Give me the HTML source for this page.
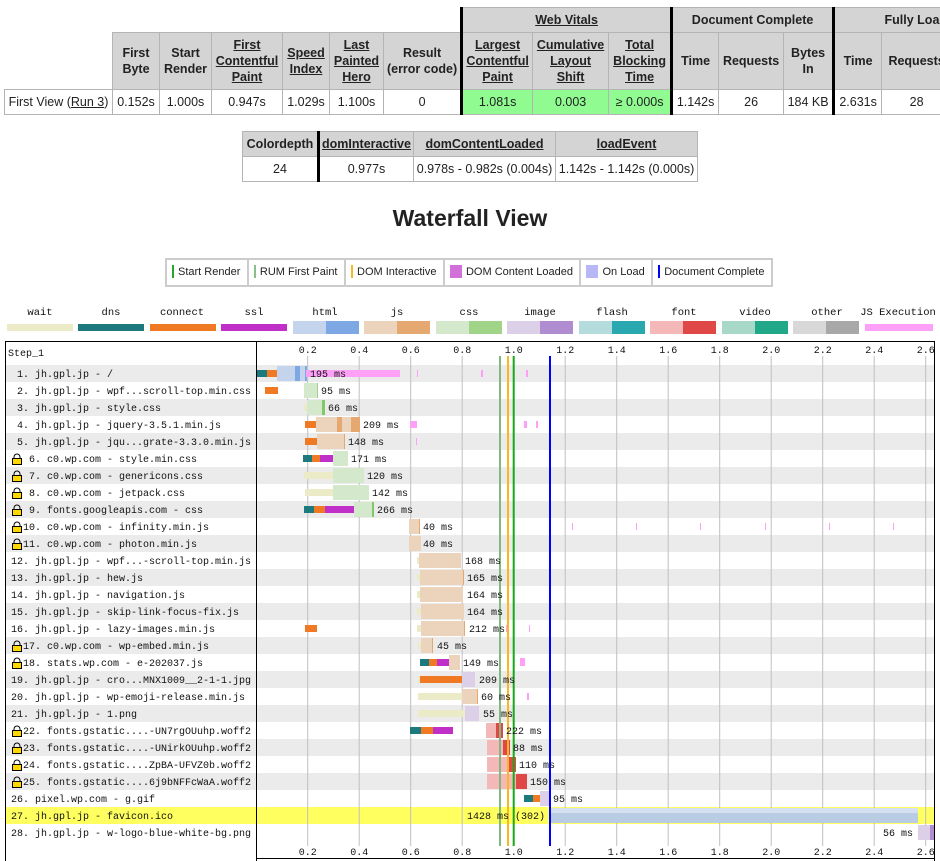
<!DOCTYPE html>
<html><head><meta charset="utf-8"><style>
body{margin:0;width:940px;height:861px;overflow:hidden;background:#fff;font-family:"Liberation Sans",Arial,sans-serif;position:relative}
.clip{position:absolute;left:0;top:0;width:940px;height:130px;overflow:hidden}
table{border-collapse:collapse;table-layout:fixed;position:absolute}
td{border:1px solid #b4b4b4;text-align:center;padding:0;font-size:12.5px;color:#222;overflow:hidden;white-space:nowrap}
td.h{background:#d4d4d4;font-weight:bold;line-height:16px}
td.h u{text-decoration:underline}
td.g{background:#90fb90}
.tk{border-left:3px solid #000}
td.e{border:none;background:#fff}
h1{position:absolute;left:0;width:940px;top:205px;margin:0;text-align:center;font-size:23px;font-weight:bold;color:#222}
.lg{position:absolute;top:258px;left:165px;width:604px;height:25px;border:2px solid #ccc;display:flex;background:#fff}
.lg div{border-right:2px solid #ccc;font-size:11px;line-height:25px;padding:0 5px;white-space:nowrap;color:#222;flex:1 1 auto}
.lg div:last-child{border-right:none}
.lg span{display:inline-block;vertical-align:middle;margin-right:4px;margin-top:-2px}
</style></head><body>
<div class="clip">
<table style="left:4px;top:7px;width:1007px">
<colgroup><col style="width:108px"><col style="width:47px"><col style="width:52px"><col style="width:71px"><col style="width:47px"><col style="width:54px"><col style="width:78px"><col style="width:71px"><col style="width:76px"><col style="width:63px"><col style="width:47px"><col style="width:65px"><col style="width:50px"><col style="width:48px"><col style="width:70px"><col style="width:60px"></colgroup>
<tr style="height:25px"><td class="e" colspan="7"></td><td class="h tk" colspan="3"><u>Web Vitals</u></td><td class="h tk" colspan="3">Document Complete</td><td class="h tk" colspan="3">Fully Loaded</td></tr>
<tr style="height:57px"><td class="e" style="border-bottom:1px solid #b4b4b4"></td><td class="h">First<br>Byte</td><td class="h">Start<br>Render</td><td class="h"><u>First<br>Contentful<br>Paint</u></td><td class="h"><u>Speed<br>Index</u></td><td class="h"><u>Last<br>Painted<br>Hero</u></td><td class="h">Result<br>(error code)</td><td class="h tk"><u>Largest<br>Contentful<br>Paint</u></td><td class="h"><u>Cumulative<br>Layout<br>Shift</u></td><td class="h"><u>Total<br>Blocking<br>Time</u></td><td class="h tk">Time</td><td class="h">Requests</td><td class="h">Bytes<br>In</td><td class="h tk">Time</td><td class="h">Requests</td><td class="h">Bytes<br>In</td></tr>
<tr style="height:25px"><td>First View (<u>Run 3</u>)</td><td>0.152s</td><td>1.000s</td><td>0.947s</td><td>1.029s</td><td>1.100s</td><td>0</td><td class="g tk">1.081s</td><td class="g">0.003</td><td class="g">≥ 0.000s</td><td class="tk">1.142s</td><td>26</td><td>184 KB</td><td class="tk">2.631s</td><td>28</td><td>190 KB</td></tr>
</table>
</div>
<table style="left:242px;top:131px">
<colgroup><col style="width:76px"><col style="width:95px"><col style="width:142px"><col style="width:142px"></colgroup>
<tr style="height:25px"><td class="h">Colordepth</td><td class="h tk"><u>domInteractive</u></td><td class="h"><u>domContentLoaded</u></td><td class="h"><u>loadEvent</u></td></tr>
<tr style="height:25px"><td>24</td><td class="tk">0.977s</td><td>0.978s - 0.982s (0.004s)</td><td>1.142s - 1.142s (0.000s)</td></tr>
</table>
<h1>Waterfall View</h1>
<div class="lg">
<div><span style="width:2px;height:13px;background:#28a828"></span>Start Render</div>
<div><span style="width:2px;height:13px;background:#88c088"></span>RUM First Paint</div>
<div><span style="width:2px;height:13px;background:#f8b820"></span>DOM Interactive</div>
<div><span style="width:12px;height:13px;background:#d070d8"></span>DOM Content Loaded</div>
<div><span style="width:12px;height:13px;background:#b8b8f8"></span>On Load</div>
<div><span style="width:2px;height:13px;background:#0000ff"></span>Document Complete</div>
</div>
<svg width="940" height="861" style="position:absolute;left:0;top:0" font-family="Liberation Mono, monospace" font-size="10">
<g font-size="10.5" text-anchor="middle" fill="#111">
<text x="40" y="315">wait</text><text x="111" y="315">dns</text><text x="182" y="315">connect</text><text x="254" y="315">ssl</text><text x="325" y="315">html</text><text x="397" y="315">js</text><text x="469" y="315">css</text><text x="540" y="315">image</text><text x="612" y="315">flash</text><text x="684" y="315">font</text><text x="755" y="315">video</text><text x="827" y="315">other</text><text x="898" y="315">JS Execution</text>
</g>
<rect x="7" y="324" width="66" height="7" fill="#ecebc8"/><rect x="78" y="324" width="66" height="7" fill="#1c7a7e"/><rect x="150" y="324" width="66" height="7" fill="#f07a24"/><rect x="221" y="324" width="66" height="7" fill="#c030c8"/>
<rect x="293" y="321" width="33" height="13" fill="#c4d4ec"/><rect x="326" y="321" width="33" height="13" fill="#7ea8e4"/>
<rect x="364" y="321" width="33" height="13" fill="#ecd4bc"/><rect x="397" y="321" width="33" height="13" fill="#e4a870"/>
<rect x="436" y="321" width="33" height="13" fill="#d4e8cc"/><rect x="469" y="321" width="33" height="13" fill="#a0d488"/>
<rect x="507" y="321" width="33" height="13" fill="#dcd0e8"/><rect x="540" y="321" width="33" height="13" fill="#b08cd0"/>
<rect x="579" y="321" width="33" height="13" fill="#b4dcdc"/><rect x="612" y="321" width="33" height="13" fill="#2aa8b0"/>
<rect x="650" y="321" width="33" height="13" fill="#f4b8b8"/><rect x="683" y="321" width="33" height="13" fill="#e04848"/>
<rect x="722" y="321" width="33" height="13" fill="#a8d8c8"/><rect x="755" y="321" width="33" height="13" fill="#20a888"/>
<rect x="793" y="321" width="33" height="13" fill="#d8d8d8"/><rect x="826" y="321" width="33" height="13" fill="#a8a8a8"/>
<rect x="865" y="324" width="68" height="7" fill="#ffa0f8"/>
<g fill="#ebebeb">
<rect x="5" y="365" width="929" height="17"/><rect x="5" y="399" width="929" height="17"/><rect x="5" y="433" width="929" height="17"/><rect x="5" y="467" width="929" height="17"/><rect x="5" y="501" width="929" height="17"/><rect x="5" y="535" width="929" height="17"/><rect x="5" y="569" width="929" height="17"/><rect x="5" y="603" width="929" height="17"/><rect x="5" y="637" width="929" height="17"/><rect x="5" y="671" width="929" height="17"/><rect x="5" y="705" width="929" height="17"/><rect x="5" y="739" width="929" height="17"/><rect x="5" y="773" width="929" height="17"/>
</g>
<rect x="5" y="807" width="929" height="17" fill="#ffff60"/>
<g stroke="#c0c0c0" stroke-width="1">
<line x1="307.7" y1="356" x2="307.7" y2="846"/><line x1="359.2" y1="356" x2="359.2" y2="846"/><line x1="410.7" y1="356" x2="410.7" y2="846"/><line x1="462.2" y1="356" x2="462.2" y2="846"/><line x1="513.7" y1="356" x2="513.7" y2="846"/><line x1="565.2" y1="356" x2="565.2" y2="846"/><line x1="616.7" y1="356" x2="616.7" y2="846"/><line x1="668.2" y1="356" x2="668.2" y2="846"/><line x1="719.7" y1="356" x2="719.7" y2="846"/><line x1="771.2" y1="356" x2="771.2" y2="846"/><line x1="822.7" y1="356" x2="822.7" y2="846"/><line x1="874.2" y1="356" x2="874.2" y2="846"/><line x1="925.7" y1="356" x2="925.7" y2="846"/>
</g>
<g text-anchor="middle" fill="#111">
<text x="307.7" y="353">0.2</text><text x="359.2" y="353">0.4</text><text x="410.7" y="353">0.6</text><text x="462.2" y="353">0.8</text><text x="513.7" y="353">1.0</text><text x="565.2" y="353">1.2</text><text x="616.7" y="353">1.4</text><text x="668.2" y="353">1.6</text><text x="719.7" y="353">1.8</text><text x="771.2" y="353">2.0</text><text x="822.7" y="353">2.2</text><text x="874.2" y="353">2.4</text><text x="925.7" y="353">2.6</text>
<text x="307.7" y="855">0.2</text><text x="359.2" y="855">0.4</text><text x="410.7" y="855">0.6</text><text x="462.2" y="855">0.8</text><text x="513.7" y="855">1.0</text><text x="565.2" y="855">1.2</text><text x="616.7" y="855">1.4</text><text x="668.2" y="855">1.6</text><text x="719.7" y="855">1.8</text><text x="771.2" y="855">2.0</text><text x="822.7" y="855">2.2</text><text x="874.2" y="855">2.4</text><text x="925.7" y="855">2.6</text>
</g>
<g>
<rect x="257" y="370" width="10" height="7" fill="#1c7a7e"/><rect x="267" y="370" width="10" height="7" fill="#f07a24"/>
<rect x="277" y="366" width="30" height="15" fill="#c4d4ec"/><rect x="295" y="366" width="5" height="15" fill="#7ea8e4"/><rect x="305" y="366" width="2" height="15" fill="#7ea8e4"/>
<rect x="306" y="370" width="94" height="7" fill="#ffa0f8"/><rect x="417" y="370" width="1" height="7" fill="#ffa0f8"/><rect x="481" y="370" width="2" height="7" fill="#ffa0f8"/><rect x="526" y="370" width="2" height="7" fill="#ffa0f8"/>
<rect x="265" y="387" width="13" height="7" fill="#f07a24"/><rect x="304" y="383" width="14" height="15" fill="#d4e8cc"/><rect x="317" y="383" width="1" height="15" fill="#a0d488"/>
<rect x="304" y="404" width="3" height="7" fill="#ecebc8"/><rect x="307" y="400" width="18" height="15" fill="#d4e8cc"/><rect x="322" y="400" width="3" height="15" fill="#80c868"/>
<rect x="305" y="421" width="11" height="7" fill="#f07a24"/><rect x="316" y="417" width="44" height="15" fill="#ecd4bc"/><rect x="337" y="417" width="5" height="15" fill="#e4a870"/><rect x="351" y="417" width="9" height="15" fill="#e4a870"/>
<rect x="410" y="421" width="7" height="7" fill="#ffa0f8"/><rect x="524" y="421" width="3" height="7" fill="#ffa0f8"/><rect x="536" y="421" width="2" height="7" fill="#ffa0f8"/>
<rect x="305" y="438" width="12" height="7" fill="#f07a24"/><rect x="317" y="434" width="28" height="15" fill="#ecd4bc"/><rect x="344" y="434" width="1" height="15" fill="#e4a870"/><rect x="416" y="438" width="1" height="7" fill="#ffa0f8"/>
<rect x="303" y="455" width="9" height="7" fill="#1c7a7e"/><rect x="312" y="455" width="8" height="7" fill="#f07a24"/><rect x="320" y="455" width="13" height="7" fill="#c030c8"/><rect x="333" y="451" width="15" height="15" fill="#d4e8cc"/>
<rect x="304" y="472" width="29" height="7" fill="#ecebc8"/><rect x="333" y="468" width="31" height="15" fill="#d4e8cc"/>
<rect x="305" y="489" width="28" height="7" fill="#ecebc8"/><rect x="333" y="485" width="36" height="15" fill="#d4e8cc"/>
<rect x="304" y="506" width="10" height="7" fill="#1c7a7e"/><rect x="314" y="506" width="11" height="7" fill="#f07a24"/><rect x="325" y="506" width="29" height="7" fill="#c030c8"/><rect x="354" y="502" width="20" height="15" fill="#d4e8cc"/><rect x="372" y="502" width="2" height="15" fill="#80c868"/>
<rect x="409" y="519" width="11" height="15" fill="#ecd4bc"/><rect x="419" y="519" width="1" height="15" fill="#e4a870"/><rect x="572" y="523" width="1" height="7" fill="#ffa0f8"/><rect x="636" y="523" width="1" height="7" fill="#ffa0f8"/><rect x="700" y="523" width="1" height="7" fill="#ffa0f8"/><rect x="765" y="523" width="1" height="7" fill="#ffa0f8"/><rect x="829" y="523" width="1" height="7" fill="#ffa0f8"/><rect x="893" y="523" width="1" height="7" fill="#ffa0f8"/>
<rect x="409" y="536" width="12" height="15" fill="#ecd4bc"/>
<rect x="417" y="557" width="2" height="7" fill="#ecebc8"/><rect x="419" y="553" width="42" height="15" fill="#ecd4bc"/>
<rect x="417" y="574" width="3" height="7" fill="#ecebc8"/><rect x="420" y="570" width="44" height="15" fill="#ecd4bc"/><rect x="463" y="570" width="1" height="15" fill="#e4a870"/>
<rect x="417" y="591" width="3" height="7" fill="#ecebc8"/><rect x="420" y="587" width="43" height="15" fill="#ecd4bc"/>
<rect x="417" y="608" width="4" height="7" fill="#ecebc8"/><rect x="421" y="604" width="43" height="15" fill="#ecd4bc"/>
<rect x="305" y="625" width="12" height="7" fill="#f07a24"/><rect x="417" y="625" width="4" height="7" fill="#ecebc8"/><rect x="421" y="621" width="44" height="15" fill="#ecd4bc"/><rect x="464" y="621" width="1" height="15" fill="#e4a870"/><rect x="506" y="625" width="3" height="7" fill="#ffa0f8"/><rect x="529" y="625" width="1" height="7" fill="#ffa0f8"/>
<rect x="418" y="642" width="3" height="7" fill="#ecebc8"/><rect x="421" y="638" width="12" height="15" fill="#ecd4bc"/><rect x="432" y="638" width="1" height="15" fill="#e4a870"/>
<rect x="420" y="659" width="9" height="7" fill="#1c7a7e"/><rect x="429" y="659" width="8" height="7" fill="#f07a24"/><rect x="437" y="659" width="12" height="7" fill="#c030c8"/><rect x="449" y="655" width="11" height="15" fill="#ecd4bc"/><rect x="520" y="658" width="5" height="8" fill="#ffa0f8"/>
<rect x="418" y="676" width="2" height="7" fill="#ecebc8"/><rect x="420" y="676" width="42" height="7" fill="#f07a24"/><rect x="462" y="672" width="13" height="15" fill="#dcd0e8"/>
<rect x="418" y="693" width="44" height="7" fill="#ecebc8"/><rect x="462" y="689" width="16" height="15" fill="#ecd4bc"/><rect x="477" y="689" width="1" height="15" fill="#e4a870"/><rect x="527" y="693" width="2" height="7" fill="#ffa0f8"/>
<rect x="418" y="710" width="47" height="7" fill="#ecebc8"/><rect x="465" y="706" width="14" height="15" fill="#dcd0e8"/>
<rect x="410" y="727" width="11" height="7" fill="#1c7a7e"/><rect x="421" y="727" width="12" height="7" fill="#f07a24"/><rect x="433" y="727" width="20" height="7" fill="#c030c8"/><rect x="486" y="723" width="17" height="15" fill="#f4b8b8"/><rect x="496" y="723" width="7" height="15" fill="#e04848"/>
<rect x="487" y="740" width="23" height="15" fill="#f4b8b8"/><rect x="503" y="740" width="7" height="15" fill="#e04848"/>
<rect x="487" y="757" width="29" height="15" fill="#f4b8b8"/><rect x="509" y="757" width="7" height="15" fill="#e04848"/>
<rect x="487" y="774" width="40" height="15" fill="#f4b8b8"/><rect x="516" y="774" width="11" height="15" fill="#e04848"/>
<rect x="524" y="795" width="9" height="7" fill="#1c7a7e"/><rect x="533" y="795" width="7" height="7" fill="#f07a24"/><rect x="540" y="791" width="10" height="15" fill="#dcd0e8"/>
<rect x="550" y="808" width="368" height="15" fill="#b8cce4"/><rect x="550" y="808" width="368" height="5" fill="#d4e0f0"/>
<rect x="918" y="825" width="16" height="15" fill="#dcd0e8"/><rect x="930" y="825" width="4" height="15" fill="#b08cd0"/>
</g>
<line x1="500" y1="356" x2="500" y2="846" stroke="#80b880" stroke-width="2"/>
<line x1="508" y1="356" x2="508" y2="846" stroke="#f8b820" stroke-width="2"/>
<line x1="513.7" y1="356" x2="513.7" y2="846" stroke="#18a818" stroke-width="2"/>
<line x1="550" y1="356" x2="550" y2="846" stroke="#0000ff" stroke-width="2"/>
<g fill="#111">
<text x="310" y="377">195 ms</text><text x="321" y="394">95 ms</text><text x="328" y="411">66 ms</text><text x="363" y="428">209 ms</text><text x="348" y="445">148 ms</text><text x="351" y="462">171 ms</text><text x="367" y="479">120 ms</text><text x="372" y="496">142 ms</text><text x="377" y="513">266 ms</text><text x="423" y="530">40 ms</text><text x="423" y="547">40 ms</text><text x="465" y="564">168 ms</text><text x="467" y="581">165 ms</text><text x="467" y="598">164 ms</text><text x="467" y="615">164 ms</text><text x="469" y="632">212 ms</text><text x="437" y="649">45 ms</text><text x="463" y="666">149 ms</text><text x="479" y="683">209 ms</text><text x="481" y="700">60 ms</text><text x="483" y="717">55 ms</text><text x="506" y="734">222 ms</text><text x="513" y="751">88 ms</text><text x="519" y="768">110 ms</text><text x="530" y="785">150 ms</text><text x="553" y="802">95 ms</text><text x="545" y="819" text-anchor="end">1428 ms (302)</text><text x="913" y="836" text-anchor="end">56 ms</text>
</g>
<rect x="5.5" y="341.5" width="929" height="530" fill="none" stroke="#000"/>
<line x1="256.5" y1="341" x2="256.5" y2="861" stroke="#000"/>
<line x1="256" y1="858.5" x2="935" y2="858.5" stroke="#000"/>
<g fill="#ffd800" stroke="#000" stroke-width="1">
<path d="M14 459 v-2 a3 3 0 0 1 6 0 v2" fill="none"/><rect x="12.5" y="458.5" width="9" height="6"/>
<path d="M14 476 v-2 a3 3 0 0 1 6 0 v2" fill="none"/><rect x="12.5" y="475.5" width="9" height="6"/>
<path d="M14 493 v-2 a3 3 0 0 1 6 0 v2" fill="none"/><rect x="12.5" y="492.5" width="9" height="6"/>
<path d="M14 510 v-2 a3 3 0 0 1 6 0 v2" fill="none"/><rect x="12.5" y="509.5" width="9" height="6"/>
<path d="M14 527 v-2 a3 3 0 0 1 6 0 v2" fill="none"/><rect x="12.5" y="526.5" width="9" height="6"/>
<path d="M14 544 v-2 a3 3 0 0 1 6 0 v2" fill="none"/><rect x="12.5" y="543.5" width="9" height="6"/>
<path d="M14 646 v-2 a3 3 0 0 1 6 0 v2" fill="none"/><rect x="12.5" y="645.5" width="9" height="6"/>
<path d="M14 663 v-2 a3 3 0 0 1 6 0 v2" fill="none"/><rect x="12.5" y="662.5" width="9" height="6"/>
<path d="M14 731 v-2 a3 3 0 0 1 6 0 v2" fill="none"/><rect x="12.5" y="730.5" width="9" height="6"/>
<path d="M14 748 v-2 a3 3 0 0 1 6 0 v2" fill="none"/><rect x="12.5" y="747.5" width="9" height="6"/>
<path d="M14 765 v-2 a3 3 0 0 1 6 0 v2" fill="none"/><rect x="12.5" y="764.5" width="9" height="6"/>
<path d="M14 782 v-2 a3 3 0 0 1 6 0 v2" fill="none"/><rect x="12.5" y="781.5" width="9" height="6"/>
</g>
<g fill="#111">
<text x="8" y="356">Step_1</text>
<text x="17" y="377">1. jh.gpl.jp - /</text>
<text x="17" y="394">2. jh.gpl.jp - wpf...scroll-top.min.css</text>
<text x="17" y="411">3. jh.gpl.jp - style.css</text>
<text x="17" y="428">4. jh.gpl.jp - jquery-3.5.1.min.js</text>
<text x="17" y="445">5. jh.gpl.jp - jqu...grate-3.3.0.min.js</text>
<text x="29" y="462">6. c0.wp.com - style.min.css</text>
<text x="29" y="479">7. c0.wp.com - genericons.css</text>
<text x="29" y="496">8. c0.wp.com - jetpack.css</text>
<text x="29" y="513">9. fonts.googleapis.com - css</text>
<text x="23" y="530">10. c0.wp.com - infinity.min.js</text>
<text x="23" y="547">11. c0.wp.com - photon.min.js</text>
<text x="11" y="564">12. jh.gpl.jp - wpf...-scroll-top.min.js</text>
<text x="11" y="581">13. jh.gpl.jp - hew.js</text>
<text x="11" y="598">14. jh.gpl.jp - navigation.js</text>
<text x="11" y="615">15. jh.gpl.jp - skip-link-focus-fix.js</text>
<text x="11" y="632">16. jh.gpl.jp - lazy-images.min.js</text>
<text x="23" y="649">17. c0.wp.com - wp-embed.min.js</text>
<text x="23" y="666">18. stats.wp.com - e-202037.js</text>
<text x="11" y="683">19. jh.gpl.jp - cro...MNX1009__2-1-1.jpg</text>
<text x="11" y="700">20. jh.gpl.jp - wp-emoji-release.min.js</text>
<text x="11" y="717">21. jh.gpl.jp - 1.png</text>
<text x="23" y="734">22. fonts.gstatic....-UN7rgOUuhp.woff2</text>
<text x="23" y="751">23. fonts.gstatic....-UNirkOUuhp.woff2</text>
<text x="23" y="768">24. fonts.gstatic....ZpBA-UFVZ0b.woff2</text>
<text x="23" y="785">25. fonts.gstatic....6j9bNFFcWaA.woff2</text>
<text x="11" y="802">26. pixel.wp.com - g.gif</text>
<text x="11" y="819">27. jh.gpl.jp - favicon.ico</text>
<text x="11" y="836">28. jh.gpl.jp - w-logo-blue-white-bg.png</text>
</g>
</svg>
</body></html>
